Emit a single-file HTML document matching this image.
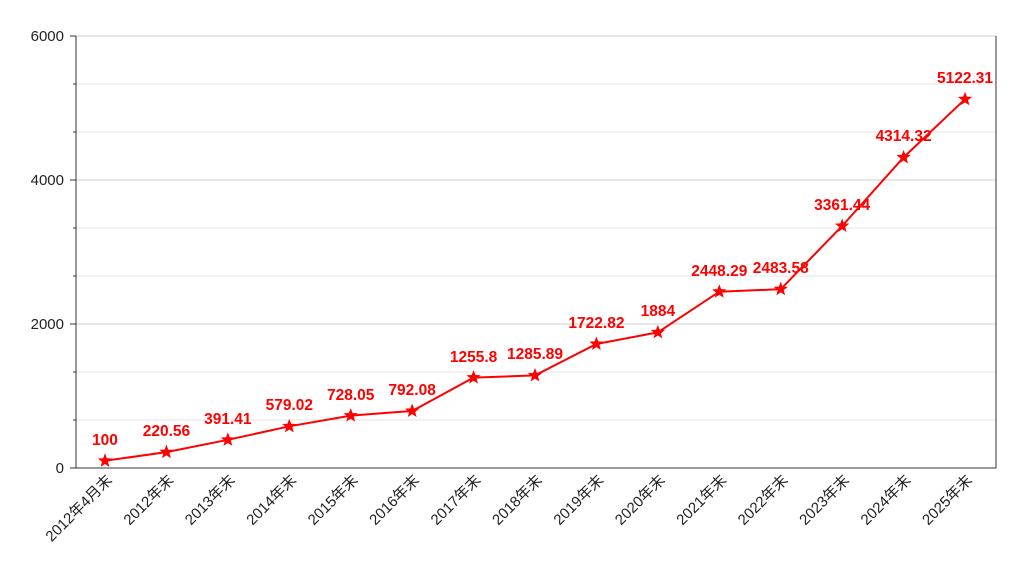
<!DOCTYPE html>
<html><head><meta charset="utf-8"><style>body{margin:0;background:#fff}svg{display:block}</style></head><body>
<svg width="1024" height="571" xmlns="http://www.w3.org/2000/svg" font-family="Liberation Sans, Noto Sans CJK SC, sans-serif">
<defs><polygon id="st" points="0,-7.5 1.85,-2.55 7.13,-2.32 3,0.97 4.41,6.07 0,3.15 -4.41,6.07 -3,0.97 -7.13,-2.32 -1.85,-2.55" fill="#ff0000"/></defs>
<g stroke="#e6e6e6" stroke-width="1">
<line x1="76" x2="996" y1="84" y2="84"/><line x1="76" x2="996" y1="132" y2="132"/>
<line x1="76" x2="996" y1="228" y2="228"/><line x1="76" x2="996" y1="276" y2="276"/>
<line x1="76" x2="996" y1="372" y2="372"/><line x1="76" x2="996" y1="420" y2="420"/>
</g>
<g stroke="#cccccc" stroke-width="1">
<line x1="76" x2="996" y1="36" y2="36"/><line x1="76" x2="996" y1="180" y2="180"/><line x1="76" x2="996" y1="324" y2="324"/>
</g>
<line x1="996" x2="996" y1="36" y2="468" stroke="#333"/>
<line x1="76" x2="76" y1="36" y2="468" stroke="#333"/>
<line x1="70" x2="996" y1="468" y2="468" stroke="#333"/>
<g stroke="#333">
<line x1="70" x2="76" y1="36" y2="36"/><line x1="70" x2="76" y1="180" y2="180"/><line x1="70" x2="76" y1="324" y2="324"/>
<line x1="73" x2="76" y1="84" y2="84"/><line x1="73" x2="76" y1="132" y2="132"/><line x1="73" x2="76" y1="228" y2="228"/>
<line x1="73" x2="76" y1="276" y2="276"/><line x1="73" x2="76" y1="372" y2="372"/><line x1="73" x2="76" y1="420" y2="420"/>
</g>
<g font-size="15" fill="#222" text-anchor="end">
<text x="64" y="473">0</text><text x="64" y="329">2000</text><text x="64" y="185">4000</text><text x="64" y="41">6000</text>
</g>
<polyline fill="none" stroke="#ff0000" stroke-width="2" points="105,460.8 166.43,452.12 227.86,439.82 289.29,426.31 350.72,415.58 412.15,410.97 473.58,377.58 535.01,375.42 596.44,343.96 657.87,332.35 719.3,291.72 780.73,289.18 842.16,225.98 903.59,157.37 965.02,99.19"/>
<use href="#st" x="105" y="460.8"/><use href="#st" x="166.43" y="452.12"/><use href="#st" x="227.86" y="439.82"/>
<use href="#st" x="289.29" y="426.31"/><use href="#st" x="350.72" y="415.58"/><use href="#st" x="412.15" y="410.97"/>
<use href="#st" x="473.58" y="377.58"/><use href="#st" x="535.01" y="375.42"/><use href="#st" x="596.44" y="343.96"/>
<use href="#st" x="657.87" y="332.35"/><use href="#st" x="719.3" y="291.72"/><use href="#st" x="780.73" y="289.18"/>
<use href="#st" x="842.16" y="225.98"/><use href="#st" x="903.59" y="157.37"/><use href="#st" x="965.02" y="99.19"/>
<g font-size="15.5" font-weight="bold" fill="#ff0000" text-anchor="middle">
<text x="105" y="445">100</text><text x="166.43" y="436">220.56</text><text x="227.86" y="424">391.41</text>
<text x="289.29" y="410">579.02</text><text x="350.72" y="400">728.05</text><text x="412.15" y="395">792.08</text>
<text x="473.58" y="362">1255.8</text><text x="535.01" y="359">1285.89</text><text x="596.44" y="328">1722.82</text>
<text x="657.87" y="316">1884</text><text x="719.3" y="276">2448.29</text><text x="780.73" y="273">2483.58</text>
<text x="842.16" y="210">3361.44</text><text x="903.59" y="141">4314.32</text><text x="965.02" y="83">5122.31</text>
</g>
<g font-size="15" fill="#222" text-anchor="end">
<text transform="translate(113,481) rotate(-45)">2012年4月末</text>
<text transform="translate(174.43,481) rotate(-45)">2012年末</text>
<text transform="translate(235.86,481) rotate(-45)">2013年末</text>
<text transform="translate(297.29,481) rotate(-45)">2014年末</text>
<text transform="translate(358.72,481) rotate(-45)">2015年末</text>
<text transform="translate(420.15,481) rotate(-45)">2016年末</text>
<text transform="translate(481.58,481) rotate(-45)">2017年末</text>
<text transform="translate(543.01,481) rotate(-45)">2018年末</text>
<text transform="translate(604.44,481) rotate(-45)">2019年末</text>
<text transform="translate(665.87,481) rotate(-45)">2020年末</text>
<text transform="translate(727.3,481) rotate(-45)">2021年末</text>
<text transform="translate(788.73,481) rotate(-45)">2022年末</text>
<text transform="translate(850.16,481) rotate(-45)">2023年末</text>
<text transform="translate(911.59,481) rotate(-45)">2024年末</text>
<text transform="translate(973.02,481) rotate(-45)">2025年末</text>
</g>
</svg>
</body></html>
